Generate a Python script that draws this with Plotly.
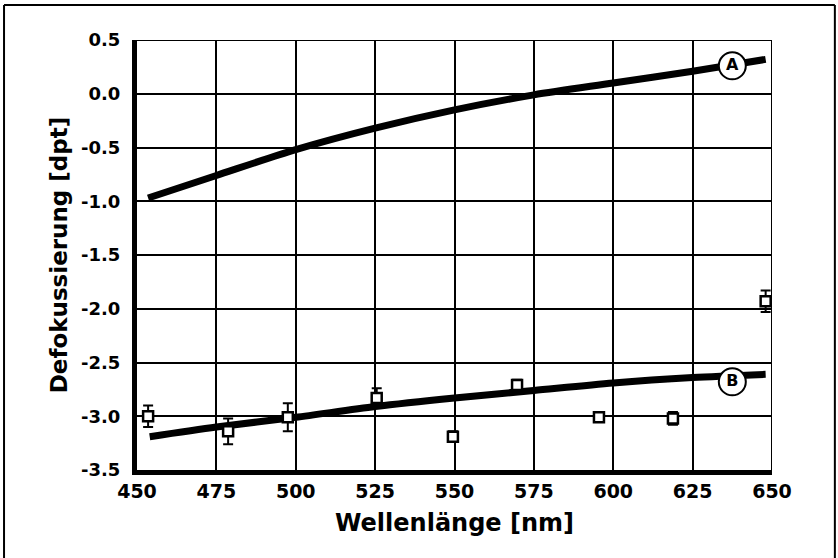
import plotly.graph_objects as go

# Curve A (model) and curve B (model)
curve_a_x = [453.5, 475, 500, 525, 550, 575, 600, 625, 648]
curve_a_y = [-0.97, -0.76, -0.52, -0.32, -0.15, -0.01, 0.10, 0.21, 0.32]
curve_b_x = [454, 475, 500, 525, 550, 575, 600, 625, 648]
curve_b_y = [-3.19, -3.10, -3.01, -2.91, -2.83, -2.76, -2.69, -2.64, -2.61]

# Measured points with error bars
meas_x = [453.5, 478.7, 497.5, 525.5, 549.5, 569.7, 595.5, 618.8, 648.0]
meas_y = [-3.00, -3.14, -3.01, -2.83, -3.19, -2.71, -3.01, -3.02, -1.93]
meas_err = [0.10, 0.12, 0.13, 0.09, 0.05, 0.05, 0.04, 0.06, 0.10]

# Curve labels
label_text = ["A", "B"]
label_x = [637.5, 637.5]
label_y = [0.26, -2.68]

x_ticks = [450, 475, 500, 525, 550, 575, 600, 625, 650]
x_tick_text = ["450", "475", "500", "525", "550", "575", "600", "625", "650"]
y_ticks = [0.5, 0.0, -0.5, -1.0, -1.5, -2.0, -2.5, -3.0, -3.5]
y_tick_text = ["0.5", "0.0", "-0.5", "-1.0", "-1.5", "-2.0", "-2.5", "-3.0", "-3.5"]

FONT = "DejaVu Sans, Liberation Sans, Arial, sans-serif"

fig = go.Figure()
fig.add_trace(go.Scatter(x=curve_a_x, y=curve_a_y, mode="lines",
                         line=dict(color="black", width=7, shape="spline", smoothing=0.8),
                         showlegend=False, hoverinfo="skip"))
fig.add_trace(go.Scatter(x=curve_b_x, y=curve_b_y, mode="lines",
                         line=dict(color="black", width=7, shape="spline", smoothing=0.8),
                         showlegend=False, hoverinfo="skip"))
fig.add_trace(go.Scatter(x=meas_x, y=meas_y, mode="markers",
                         marker=dict(symbol="square", size=10, color="white",
                                     line=dict(color="black", width=2.5)),
                         error_y=dict(type="data", array=meas_err, visible=True,
                                      color="black", thickness=2, width=5),
                         showlegend=False))
fig.add_trace(go.Scatter(x=label_x, y=label_y, mode="markers+text",
                         text=label_text, textposition="middle center",
                         textfont=dict(family=FONT, size=16, color="black", weight="bold"),
                         marker=dict(symbol="circle", size=27, color="white",
                                     line=dict(color="black", width=2)),
                         showlegend=False))

# Frame lines (top, right edges of plot area)
fig.add_shape(type="line", xref="x", yref="y", x0=450, x1=650, y0=0.5, y1=0.5,
              line=dict(color="black", width=2))
fig.add_shape(type="line", xref="x", yref="y", x0=650, x1=650, y0=-3.5, y1=0.5,
              line=dict(color="black", width=2))
# Outer border: left, top, right (bottom cut off)
for (x0, y0, x1, y1) in [(-0.2094, 1.0814, 1.099, 1.0814),
                         (-0.2094, -0.25, -0.2094, 1.0814),
                         (1.099, -0.25, 1.099, 1.0814)]:
    fig.add_shape(type="line", xref="paper", yref="paper", x0=x0, y0=y0, x1=x1, y1=y1,
                  line=dict(color="black", width=2))

fig.update_layout(
    width=838, height=558,
    margin=dict(l=137, r=66, t=40, b=88),
    paper_bgcolor="white", plot_bgcolor="white",
    font=dict(family=FONT, color="black"),
    xaxis=dict(range=[450, 650], tickvals=x_ticks, ticktext=x_tick_text,
               showgrid=True, gridcolor="black", gridwidth=2,
               showline=True, linecolor="black", linewidth=5,
               ticks="", ticklen=0, zeroline=False,
               tickfont=dict(family=FONT, size=19, color="black", weight="bold"),
               title=dict(text="Wellenlänge [nm]", standoff=15,
                          font=dict(family=FONT, size=24, color="black", weight="bold"))),
    yaxis=dict(range=[-3.5, 0.5], tickvals=y_ticks, ticktext=y_tick_text,
               showgrid=True, gridcolor="black", gridwidth=2,
               showline=True, linecolor="black", linewidth=5,
               ticks="", zeroline=False, ticklabelstandoff=8,
               tickfont=dict(family=FONT, size=18, color="black", weight="bold"),
               title=dict(text="Defokussierung [dpt]", standoff=8,
                          font=dict(family=FONT, size=23, color="black", weight="bold"))),
)

fig.write_html("out.html")
